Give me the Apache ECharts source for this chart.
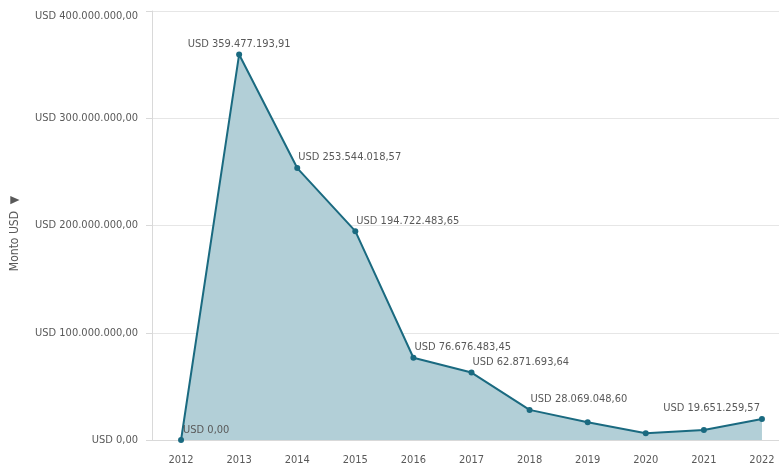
<!DOCTYPE html>
<html>
<head>
<meta charset="utf-8">
<script src="https://cdn.jsdelivr.net/npm/echarts@6/dist/echarts.min.js"></script>
<style>
html,body{margin:0;padding:0;background:#fff;}
#chart{width:779px;height:463px;}
</style>
</head>
<body>
<div id="chart"></div>
<script>
const years = ['2012','2013','2014','2015','2016','2017','2018','2019','2020','2021','2022'];
const montos = [0, 359477193.91, 253544018.57, 194722483.65, 76676483.45, 62871693.64, 28069048.60, 16500000, 6300000, 9300000, 19651259.57];
const labeledYears = ['2012','2013','2014','2015','2016','2017','2018','2022'];

const FONT = "'Liberation Sans Narrow','DejaVu Sans Condensed','Roboto Condensed','Noto Sans',sans-serif";
const TXT = '#595959';

function fmtUSD(v) {
  const parts = v.toFixed(2).split('.');
  const intPart = parts[0].replace(/\B(?=(\d{3})+(?!\d))/g, '.');
  return 'USD ' + intPart + ',' + parts[1];
}

function labelFor(year) {
  if (!labeledYears.includes(year)) return { show: false };
  if (year === '2013') return { show: true, position: 'top', align: 'center', distance: 2 };
  if (year === '2022') return { show: true, position: 'top', align: 'right', offset: [-2, 0], distance: 2 };
  if (year === '2012') return { show: true, position: 'top', align: 'left', offset: [2, 2], distance: 3 };
  return { show: true, position: 'top', align: 'left', offset: [1, 0], distance: 2 };
}

const seriesData = years.map((y, i) => ({ value: montos[i], label: labelFor(y) }));

const chart = echarts.init(document.getElementById('chart'));
chart.setOption({
  animation: false,
  grid: { left: 152, width: 639, top: 11, bottom: 23, containLabel: false, outerBoundsMode: 'none' },
  xAxis: {
    type: 'category',
    data: years,
    boundaryGap: true,
    axisLine: { show: true, lineStyle: { color: '#d9d9d9' } },
    axisTick: { show: false },
    axisLabel: { color: TXT, fontFamily: FONT, fontSize: 11, margin: 15 }
  },
  yAxis: {
    type: 'value',
    min: 0,
    max: 400000000,
    interval: 100000000,
    name: 'Monto USD  ▼',
    nameLocation: 'middle',
    nameGap: 131,
    nameRotate: 90,
    nameTextStyle: { color: TXT, fontFamily: FONT, fontSize: 12, padding: [0, 16, 0, 0] },
    axisLine: { show: true, lineStyle: { color: '#d9d9d9' } },
    axisTick: { show: true, length: 6, lineStyle: { color: '#d9d9d9' } },
    axisLabel: {
      color: TXT, fontFamily: FONT, fontSize: 11, margin: 14,
      verticalAlignMaxLabel: 'top',
      formatter: v => fmtUSD(v)
    },
    splitLine: { show: true, lineStyle: { color: '#e6e6e6' } }
  },
  series: [{
    type: 'line',
    data: seriesData,
    symbol: 'circle',
    symbolSize: 6,
    itemStyle: { color: '#1a6a80' },
    lineStyle: { color: '#1a6a80', width: 2 },
    areaStyle: { color: '#b2cfd7', opacity: 1 },
    label: {
      color: TXT, fontFamily: FONT, fontSize: 11,
      formatter: p => fmtUSD(p.value)
    }
  }]
});
</script>
</body>
</html>
